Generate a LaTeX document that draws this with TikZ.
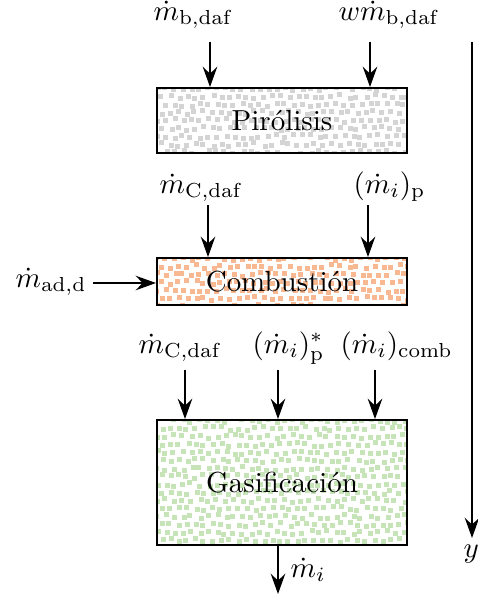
\documentclass[tikz,border=0pt]{standalone}
\usetikzlibrary{arrows.meta}
\definecolor{spgray}{RGB}{212,212,212}
\definecolor{sporange}{RGB}{248,184,146}
\definecolor{spgreen}{RGB}{198,228,184}
\newcommand\speckle[7]{% x1,y1,x2,y2,nx,ny,color
  \begin{scope}
    \clip (#1,#2) rectangle (#3,#4);
    \foreach \i in {0,...,#5}{
      \foreach \j in {0,...,#6}{
        \pgfmathsetmacro\ox{#1+8.5*\i+mod(\j,2)*4.25+rnd*4-4}
        \pgfmathsetmacro\oy{#2+8*\j+rnd*4-4}
        \fill[#7] (\ox,\oy) rectangle ++(5,5);
      }}
  \end{scope}}
\tikzset{
  flow/.style={line width=0.9pt,-{Stealth[length=7pt,width=5pt,inset=2.4pt]}},
  procbox/.style={draw,line width=0.7pt,inner sep=0pt,font=\normalsize},
  lbl/.style={inner sep=0pt,anchor=base west},
}
\begin{document}
\begin{tikzpicture}[x=0.345pt,y=-0.345pt]
\pgfmathsetseed{7}
\useasboundingbox (0,0) rectangle (478,603);
% textures
\speckle{157}{88}{407}{153}{30}{9}{spgray}
\speckle{157}{258}{407}{305}{30}{7}{sporange}
\speckle{157}{420}{407}{545}{30}{17}{spgreen}
% boxes
\node[procbox,minimum width=86.25pt,minimum height=22.4pt] (pir) at (282,120.5) {Pir\'olisis};
\node[procbox,minimum width=86.25pt,minimum height=16.2pt] (com) at (282,281.5) {Combusti\'on};
\node[procbox,minimum width=86.25pt,minimum height=43.1pt] (gas) at (282,482.5) {Gasificaci\'on};
% labels
\node[lbl] (l1) at (153,20) {$\dot m_{\mathrm{b,daf}}$};
\node[lbl] (l2) at (338,20) {$w\dot m_{\mathrm{b,daf}}$};
\node[lbl] (l3) at (159,193) {$\dot m_{\mathrm{C,daf}}$};
\node[lbl] (l4) at (353,193) {$(\dot m_i)_{\mathrm{p}}$};
\node[lbl] (l5) at (15,287) {$\dot m_{\mathrm{ad,d}}$};
\node[lbl] (l6) at (138,353) {$\dot m_{\mathrm{C,daf}}$};
\node[lbl] (l7) at (252,353) {$(\dot m_i)^*_{\mathrm{p}}$};
\node[lbl] (l8) at (340,353) {$(\dot m_i)_{\mathrm{comb}}$};
\node[lbl] (l9) at (290,577) {$\dot m_i$};
\node[lbl] (ly) at (463,557) {$y$};
% arrow start coordinates
\coordinate (s1) at (210,42);
\coordinate (s2) at (370,42);
\coordinate (s3) at (208,205);
\coordinate (s4) at (368,205);
\coordinate (s5) at (93,283);
\coordinate (s6) at (185,370);
\coordinate (s7) at (278,370);
\coordinate (s8) at (375,370);
\coordinate (e9) at (278,594);
\coordinate (ax0) at (472,42);
\coordinate (ax1) at (472,538);
% connectors
\draw[flow] (s1) -- (s1 |- pir.north);
\draw[flow] (s2) -- (s2 |- pir.north);
\draw[flow] (s3) -- (s3 |- com.north);
\draw[flow] (s4) -- (s4 |- com.north);
\draw[flow] (s5) -- (s5 -| com.west);
\draw[flow] (s6) -- (s6 |- gas.north);
\draw[flow] (s7) -- (s7 |- gas.north);
\draw[flow] (s8) -- (s8 |- gas.north);
\draw[flow] (e9 |- gas.south) -- (e9);
\draw[flow] (ax0) -- (ax1);
\end{tikzpicture}
\end{document}
